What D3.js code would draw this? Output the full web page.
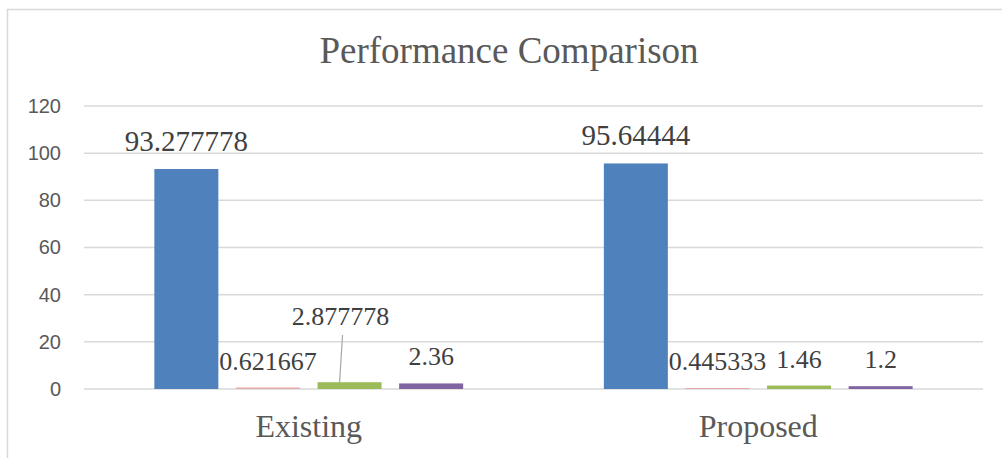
<!DOCTYPE html>
<html>
<head>
<meta charset="utf-8">
<script src="https://cdn.jsdelivr.net/npm/d3@7"></script>
<style>
  html, body { margin: 0; padding: 0; background: #fff; }
  svg { display: block; }
  .serif { font-family: "Liberation Serif", "DejaVu Serif", serif; }
  .sans { font-family: "Liberation Sans", Arial, sans-serif; }
</style>
</head>
<body>
<svg id="chart" width="1002" height="458"></svg>
<script>
// Chart data
const categories = ["Existing", "Proposed"];
const seriesNames = ["Series 1", "Series 2", "Series 3", "Series 4"];
const seriesColors = ["#4F81BD", "#E3AAA8", "#9BBB59", "#8064A2"];
const existingValues = [93.277778, 0.621667, 2.877778, 2.36];
const proposedValues = [95.64444, 0.445333, 1.46, 1.2];
const valueLabels = [
  ["93.277778", "0.621667", "2.877778", "2.36"],
  ["95.64444", "0.445333", "1.46", "1.2"]
];
const yTicks = [0, 20, 40, 60, 80, 100, 120];
const titleText = "Performance Comparison";

const rows = [existingValues, proposedValues];

const svg = d3.select("#chart");
const plot = { left: 84, right: 983, top: 106, bottom: 389 };

// Outer chart frame
svg.append("rect")
  .attr("x", 7.5).attr("y", 9.5)
  .attr("width", 1020).attr("height", 470)
  .attr("fill", "#fff")
  .attr("stroke", "#d9d9d9").attr("stroke-width", 1.5);

// Title
svg.append("text")
  .attr("class", "serif")
  .attr("x", 509).attr("y", 63)
  .attr("text-anchor", "middle")
  .attr("font-size", 37)
  .attr("fill", "#595959")
  .text(titleText);

const y = d3.scaleLinear().domain([0, 120]).range([plot.bottom, plot.top]);
const x0 = d3.scaleBand().domain(categories).range([plot.left, plot.right]).paddingInner(0).paddingOuter(0);

// Bars within a category: width 64, step ~81.6, centred
const barW = 64, barStep = 81.6;
const groupW = barStep * 3 + barW;
const xBar = (ci, si) => x0(categories[ci]) + (x0.bandwidth() - groupW) / 2 + si * barStep;

// Gridlines
svg.append("g")
  .selectAll("line")
  .data(yTicks)
  .join("line")
  .attr("x1", plot.left).attr("x2", plot.right)
  .attr("y1", d => y(d)).attr("y2", d => y(d))
  .attr("stroke", "#d9d9d9").attr("stroke-width", 1.5);

// Y axis labels
const yAxis = d3.axisLeft(y).tickValues(yTicks).tickSize(0).tickPadding(0);
const yg = svg.append("g").attr("transform", `translate(${61},0)`).call(yAxis);
yg.select(".domain").remove();
yg.attr("font-family", null).attr("font-size", null);
yg.selectAll("text")
  .attr("class", "sans")
  .attr("font-size", 20)
  .attr("fill", "#595959");

// Bars
const barData = [];
rows.forEach((vals, ci) => vals.forEach((v, si) => barData.push({ ci, si, v, label: valueLabels[ci][si] })));

svg.append("g")
  .selectAll("rect")
  .data(barData)
  .join("rect")
  .attr("x", d => xBar(d.ci, d.si))
  .attr("width", barW)
  .attr("y", d => y(d.v))
  .attr("height", d => y(0) - y(d.v))
  .attr("fill", d => seriesColors[d.si]);

// Data labels (the Existing third label is lifted with a leader line)
const labelG = svg.append("g")
  .attr("class", "serif")
  .attr("fill", "#404040")
  .attr("text-anchor", "middle");

barData.forEach(d => {
  const cx = xBar(d.ci, d.si) + barW / 2;
  let ly = y(d.v) - 18;
  let lx = cx;
  if (d.ci === 0 && d.si === 2) {
    ly = 325;
    lx = cx - 9;
    svg.append("line")
      .attr("x1", cx - 10).attr("y1", y(d.v))
      .attr("x2", cx - 7).attr("y2", ly + 10)
      .attr("stroke", "#a6a6a6").attr("stroke-width", 1.2);
  }
  labelG.append("text")
    .attr("x", lx).attr("y", ly)
    .attr("font-size", d.si === 0 ? 29 : 26)
    .text(d.label);
});

// Category labels
svg.append("g")
  .selectAll("text")
  .data(categories)
  .join("text")
  .attr("class", "serif")
  .attr("x", d => x0(d) + x0.bandwidth() / 2)
  .attr("y", 437)
  .attr("text-anchor", "middle")
  .attr("font-size", 32)
  .attr("fill", "#595959")
  .text(d => d);
</script>
</body>
</html>
